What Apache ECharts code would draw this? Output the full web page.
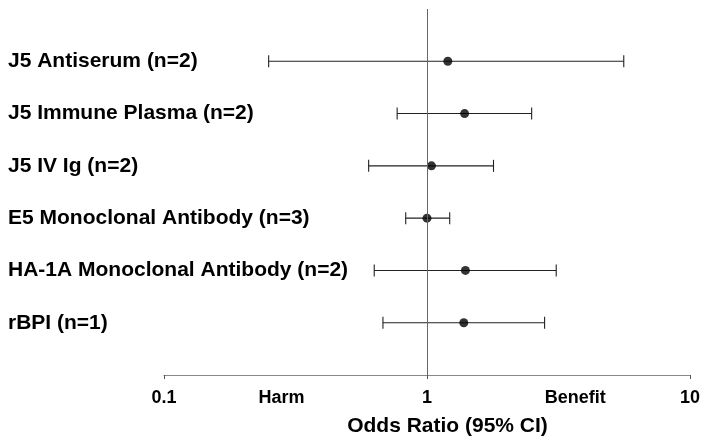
<!DOCTYPE html>
<html>
<head>
<meta charset="utf-8">
<script src="https://cdn.jsdelivr.net/npm/echarts@6/dist/echarts.min.js"></script>
<style>
html,body{margin:0;padding:0;background:#fff;}
#main{width:703px;height:442px;}
</style>
</head>
<body>
<div id="main"></div>
<script>
var categories = ['J5 Antiserum (n=2)', 'J5 Immune Plasma (n=2)', 'J5 IV Ig (n=2)', 'E5 Monoclonal Antibody (n=3)', 'HA-1A Monoclonal Antibody (n=2)', 'rBPI (n=1)'];
var oddsRatio = [1.20, 1.39, 1.04, 1.00, 1.40, 1.38];
var lowerCI = [0.25, 0.77, 0.60, 0.83, 0.63, 0.68];
var upperCI = [5.6, 2.5, 1.79, 1.22, 3.1, 2.8];
var tickValues = [0.1, 0.28, 1, 3.66, 10];
var tickLabels = ['0.1', 'Harm', '1', 'Benefit', '10'];

var yCats = [''].concat(categories).concat(['']);
var font = 'Liberation Sans, Arial, sans-serif';

var barData = categories.map(function (c, i) { return [lowerCI[i], upperCI[i], c]; });
var pointData = categories.map(function (c, i) { return [oddsRatio[i], c]; });

var chart = echarts.init(document.getElementById('main'), null, {renderer: 'canvas'});
chart.setOption({
  animation: false,
  backgroundColor: '#fff',
  grid: {left: 164, right: 13, top: 9, bottom: 64, containLabel: false},
  xAxis: {
    type: 'log',
    logBase: 10,
    min: 0.1,
    max: 10,
    name: 'Odds Ratio (95% CI)',
    nameLocation: 'middle',
    nameGap: 41,
    nameTextStyle: {fontFamily: font, fontWeight: 'bold', fontSize: 21, color: '#000', padding: [0, 0, 0, 41]},
    axisLine: {show: true, lineStyle: {color: '#888', width: 1}},
    axisTick: {show: true, length: 4, inside: false, lineStyle: {color: '#555'}},
    splitLine: {show: false},
    axisLabel: {
      customValues: tickValues,
      margin: 14,
      fontFamily: font, fontWeight: 'bold', fontSize: 18, color: '#000',
      formatter: function (v) {
        for (var i = 0; i < tickValues.length; i++) {
          if (Math.abs(v - tickValues[i]) < 1e-6) return tickLabels[i];
        }
        return '';
      }
    }
  },
  yAxis: {
    type: 'category',
    data: yCats,
    inverse: true,
    boundaryGap: false,
    axisLine: {show: false},
    axisTick: {show: false},
    splitLine: {show: false},
    axisLabel: {
      align: 'left',
      margin: 156,
      interval: 0,
      fontFamily: font, fontWeight: 'bold', fontSize: 21, color: '#000'
    }
  },
  series: [
    {
      type: 'custom',
      data: barData,
      encode: {x: [0, 1], y: 2},
      renderItem: function (params, api) {
        var y = api.value(2);
        var p1 = api.coord([api.value(0), y]);
        var p2 = api.coord([api.value(1), y]);
        var h = 6;
        var st = {stroke: '#222', lineWidth: 1.1};
        return {
          type: 'group',
          children: [
            {type: 'line', shape: {x1: p1[0], y1: p1[1], x2: p2[0], y2: p2[1]}, style: st},
            {type: 'line', shape: {x1: p1[0], y1: p1[1] - h, x2: p1[0], y2: p1[1] + h}, style: st},
            {type: 'line', shape: {x1: p2[0], y1: p2[1] - h, x2: p2[0], y2: p2[1] + h}, style: st}
          ]
        };
      },
      z: 2
    },
    {
      type: 'scatter',
      data: pointData,
      symbol: 'circle',
      symbolSize: 9,
      itemStyle: {color: '#000'},
      z: 3,
      markLine: {
        silent: true,
        symbol: ['none', 'none'],
        label: {show: false},
        lineStyle: {color: '#666', width: 1, type: 'solid'},
        data: [{xAxis: 1}]
      }
    }
  ]
});
</script>
</body>
</html>
